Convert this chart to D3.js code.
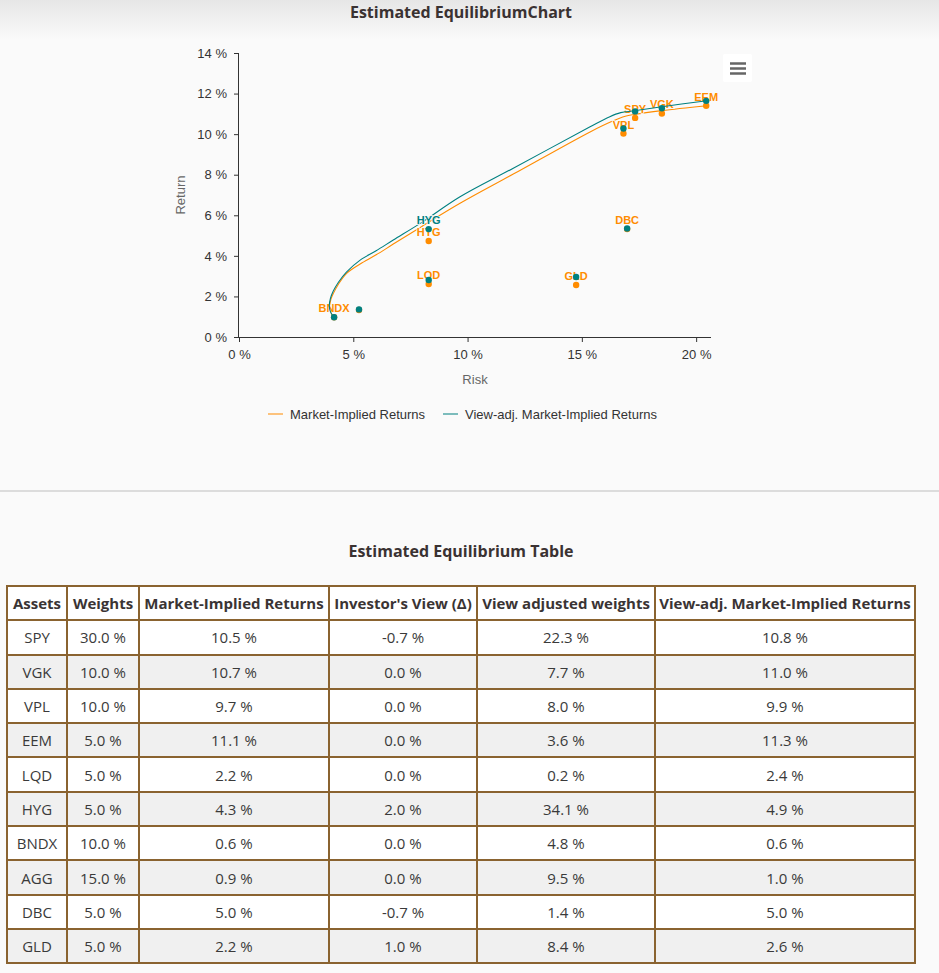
<!DOCTYPE html>
<html><head><meta charset="utf-8">
<script src="https://cdn.jsdelivr.net/npm/d3@7"></script>
<style>
html,body{margin:0;padding:0;background:#fafafa;width:939px;height:973px;overflow:hidden;}
#top{position:absolute;left:0;top:0;width:939px;height:40px;background:linear-gradient(#e6e6e6,#fafafa);}
.title{position:absolute;left:0;width:922px;text-align:center;font-family:"Open Sans",sans-serif;font-weight:700;font-size:16px;color:#3a3232;}
#sep{position:absolute;left:0;top:490px;width:939px;height:2px;background:#dcdcdc;}
#chart{position:absolute;left:0;top:0;}
#tbl{position:absolute;left:6px;top:585px;border-collapse:collapse;table-layout:fixed;font-family:"Open Sans",sans-serif;font-size:15px;color:#3a3a3a;}
#tbl tr{height:34.3px;}
#tbl td,#tbl th{border:2px solid #8a6330;text-align:center;padding:0 2px;white-space:nowrap;}
#tbl th{font-weight:700;background:#fff;color:#3a3434;}
#tbl tr.even td{background:#f0f0f0;}
#tbl tr.odd td{background:#fff;}
</style></head>
<body>
<div id="top"></div>
<div class="title" style="top:1px">Estimated EquilibriumChart</div>
<svg id="chart" width="939" height="490"></svg>
<div id="sep"></div>
<div class="title" style="top:540px">Estimated Equilibrium Table</div>
<table id="tbl"></table>
<script>
// ---- data ----
const assets = ["SPY","VGK","VPL","EEM","LQD","HYG","BNDX","AGG","DBC","GLD"];
const weights = [30.0,10.0,10.0,5.0,5.0,5.0,10.0,15.0,5.0,5.0];
const marketImplied = [10.5,10.7,9.7,11.1,2.2,4.3,0.6,0.9,5.0,2.2];
const investorView = [-0.7,0.0,0.0,0.0,0.0,2.0,0.0,0.0,-0.7,1.0];
const viewAdjWeights = [22.3,7.7,8.0,3.6,0.2,34.1,4.8,9.5,1.4,8.4];
const viewAdjReturns = [10.8,11.0,9.9,11.3,2.4,4.9,0.6,1.0,5.0,2.6];
const headers = ["Assets","Weights","Market-Implied Returns","Investor's View (Δ)","View adjusted weights","View-adj. Market-Implied Returns"];

// chart points (risk %, return %)
const assetRisk = [17.33,18.5,16.82,20.44,8.3,8.3,4.16,5.25,16.98,14.75];
const marketPointReturn = [10.8,11.02,10.03,11.4,2.61,4.73,0.97,1.33,5.32,2.56];
const viewPointReturn = [11.12,11.28,10.28,11.64,2.81,5.32,0.97,1.36,5.35,2.96];
const marketLabelShown = [true,true,true,true,true,true,true,false,true,true];
const viewLabelShown = [false,false,false,false,false,true,false,false,false,false];

// efficient frontier curves
const marketFrontierRisk = [4.16,4.02,3.97,4.02,4.13,4.35,4.71,5.3,6.0,6.75,8.0,9.67,12.0,15.36,16.3,16.9,17.3,18.5,20.47];
const marketFrontierReturn = [0.95,1.2,1.5,1.85,2.15,2.6,3.14,3.6,4.05,4.58,5.45,6.59,8.03,10.11,10.62,10.88,10.97,11.16,11.4];
const viewFrontierRisk = [4.16,4.0,3.95,4.0,4.12,4.35,4.7,5.3,6.0,6.75,8.0,9.67,12.0,15.36,16.2,16.7,17.3,18.5,20.47];
const viewFrontierReturn = [0.95,1.25,1.55,1.9,2.25,2.7,3.2,3.79,4.25,4.78,5.65,6.91,8.32,10.36,10.85,11.06,11.15,11.35,11.65];

const xTicks = [0,5,10,15,20];
const yTicks = [0,2,4,6,8,10,12,14];
const seriesNames = ["Market-Implied Returns","View-adj. Market-Implied Returns"];
const seriesColors = ["#ff8c00","#008080"];

// ---- chart ----
const svg = d3.select("#chart");
const font = "'Liberation Sans', Arial, sans-serif";
const x = d3.scaleLinear().domain([0,20.65]).range([239,711]);
const y = d3.scaleLinear().domain([0,14]).range([337,53]);

const yAxis = svg.append("g").attr("transform","translate(239,0)")
  .call(d3.axisLeft(y).tickValues(yTicks).tickSize(5).tickPadding(7).tickFormat(d=>d+" %"));
const xAxis = svg.append("g").attr("transform","translate(0,337)")
  .call(d3.axisBottom(x).tickValues(xTicks).tickSize(5).tickPadding(8).tickFormat(d=>d+" %"));
[yAxis,xAxis].forEach(a=>{
  a.select(".domain").attr("stroke","#333");
  a.selectAll(".tick line").attr("stroke","#333");
  a.selectAll("text").attr("font-family",font).attr("font-size","13px").attr("fill","#333");
});
xAxis.select(".domain").attr("d","M239,0.5H711");
yAxis.select(".domain").attr("d","M-0.5,53V337");

svg.append("text").attr("transform","translate(185,195) rotate(-90)").attr("text-anchor","middle")
  .attr("font-family",font).attr("font-size","13px").attr("fill","#666").text("Return");
svg.append("text").attr("x",475).attr("y",384).attr("text-anchor","middle")
  .attr("font-family",font).attr("font-size","13px").attr("fill","#666").text("Risk");

const line = d3.line().x(d=>x(d[0])).y(d=>y(d[1])).curve(d3.curveCatmullRom.alpha(0.5));
const frontiers = [
  d3.zip(marketFrontierRisk, marketFrontierReturn),
  d3.zip(viewFrontierRisk, viewFrontierReturn)
];
const pts = [
  assets.map((a,i)=>({a, r:assetRisk[i], v:marketPointReturn[i], show:marketLabelShown[i]})),
  assets.map((a,i)=>({a, r:assetRisk[i], v:viewPointReturn[i], show:viewLabelShown[i]}))
];
[0,1].forEach(s=>{
  const g = svg.append("g");
  g.append("path").attr("d",line(frontiers[s])).attr("fill","none")
    .attr("stroke",seriesColors[s]).attr("stroke-width",1.1);
  g.selectAll("circle").data(pts[s]).join("circle")
    .attr("cx",d=>x(d.r)).attr("cy",d=>y(d.v)).attr("r",3.2).attr("fill",seriesColors[s]);
  g.selectAll("text").data(pts[s].filter(d=>d.show)).join("text")
    .attr("x",d=>x(d.r)).attr("y",d=>y(d.v)-5).attr("text-anchor","middle")
    .attr("font-family",font).attr("font-size","11px").attr("font-weight","bold")
    .attr("fill",seriesColors[s]).attr("stroke","#fafafa").attr("stroke-width",1.5)
    .attr("paint-order","stroke").text(d=>d.a);
});

// legend
const legX = [268,443];
seriesNames.forEach((n,i)=>{
  svg.append("line").attr("x1",legX[i]).attr("x2",legX[i]+15).attr("y1",414).attr("y2",414)
    .attr("stroke",seriesColors[i]).attr("stroke-width",2).attr("opacity",0.5);
  svg.append("text").attr("x",legX[i]+22).attr("y",418.5).attr("font-family",font)
    .attr("font-size","13px").attr("fill","#333").text(n);
});

// menu button
const mb = svg.append("g");
mb.append("rect").attr("x",723).attr("y",54).attr("width",29).attr("height",28).attr("rx",2).attr("fill","#fff");
[63.5,68.5,73.5].forEach(yy=>mb.append("line").attr("x1",730).attr("x2",746).attr("y1",yy).attr("y2",yy)
  .attr("stroke","#666").attr("stroke-width",2.5));

// ---- table ----
const colW = [60,72,190,148,178,260];
const tbl = d3.select("#tbl").style("width",d3.sum(colW)+"px");
tbl.append("colgroup").selectAll("col").data(colW).join("col").style("width",d=>d+"px");
tbl.append("tr").selectAll("th").data(headers).join("th").text(d=>d);
const fmt = v=>v.toFixed(1)+" %";
assets.forEach((a,i)=>{
  const row=[a,fmt(weights[i]),fmt(marketImplied[i]),fmt(investorView[i]),fmt(viewAdjWeights[i]),fmt(viewAdjReturns[i])];
  tbl.append("tr").attr("class",i%2?"even":"odd").selectAll("td").data(row).join("td").text(d=>d);
});
</script>
</body></html>
